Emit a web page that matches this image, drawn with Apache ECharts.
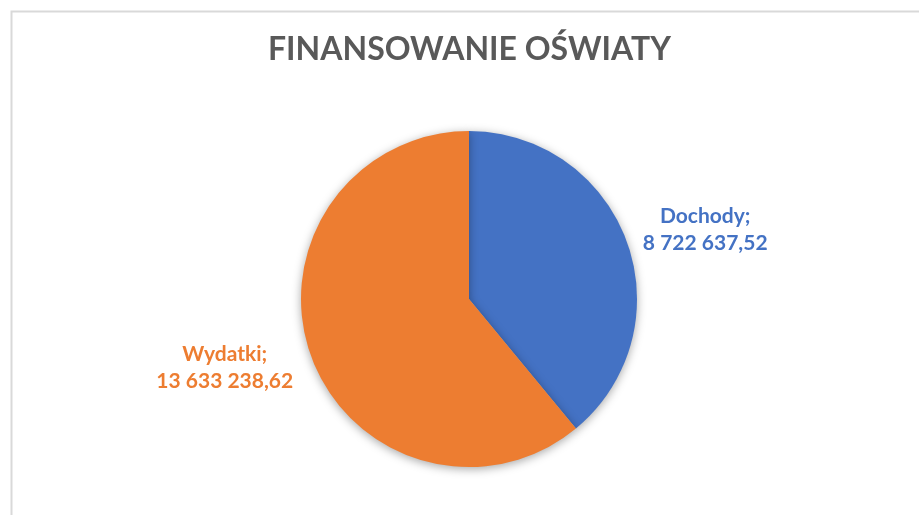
<!DOCTYPE html>
<html><head><meta charset="utf-8">
<script src="https://cdn.jsdelivr.net/npm/echarts@6/dist/echarts.min.js"></script>
<style>html,body{margin:0;padding:0;background:#fff}#c{width:919px;height:515px}</style>
</head><body><div id="c"></div>
<script>
const titleText = 'FINANSOWANIE OŚWIATY';
const categories = ['Dochody', 'Wydatki'];
const values = [8722637.52, 13633238.62];
const valueLabels = ['8 722 637,52', '13 633 238,62'];
const colors = ['#4472C4', '#ED7D31'];

const chart = echarts.init(document.getElementById('c'), null, {renderer: 'canvas'});
const center = [469, 299];
const sliceData = categories.map((n, i) => ({name: n, value: values[i], itemStyle: {color: colors[i]}}));
const labelData = categories.map((n, i) => ({
  name: n, value: values[i],
  label: {color: colors[i], formatter: n + ';\n' + valueLabels[i]}
}));
chart.setOption({
  backgroundColor: '#fff',
  animation: false,
  title: {
    text: titleText, left: 263, top: 29,
    textStyle: {fontFamily: 'Lato', fontWeight: 'bold', fontSize: 32, color: '#595959'}
  },
  graphic: [{type: 'rect', left: 9, top: 9, shape: {width: 930, height: 530},
    style: {fill: 'none', stroke: '#d9d9d9', lineWidth: 2}, silent: true}],
  series: [
    {
      type: 'pie', center: center, radius: [0, 168], startAngle: 90, clockwise: true,
      data: sliceData, label: {show: false}, labelLine: {show: false}, silent: true,
      itemStyle: {shadowBlur: 10, shadowColor: 'rgba(0,0,0,0.35)', shadowOffsetY: 2}
    },
    {
      type: 'pie', center: center, radius: [0, 494], startAngle: 86.3, clockwise: true,
      data: labelData, silent: true, z: 5,
      itemStyle: {color: 'rgba(0,0,0,0)'},
      labelLine: {show: false},
      label: {show: true, position: 'inside', fontFamily: 'Lato', fontWeight: 'bold',
        fontSize: 21, lineHeight: 27, align: 'center', offset: [-4, 0]}
    }
  ]
});
</script></body></html>
